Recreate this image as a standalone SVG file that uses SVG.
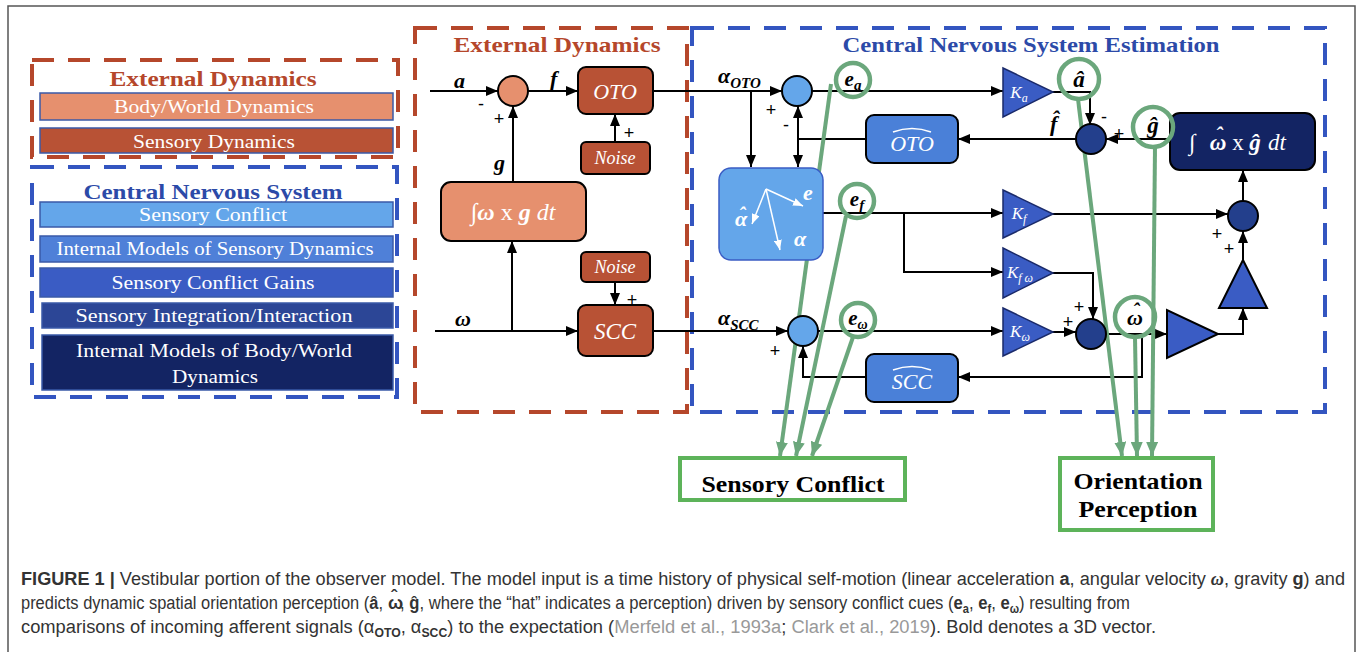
<svg xmlns="http://www.w3.org/2000/svg" width="1360" height="652" viewBox="0 0 1360 652">
<style>
.dr{fill:none;stroke:#b5472b;stroke-width:4;stroke-dasharray:22 14}
.db{fill:none;stroke:#3355c0;stroke-width:4;stroke-dasharray:22 14}
.ttl{font-family:"Liberation Serif",serif;font-weight:bold;font-size:22px;text-anchor:middle}
.lg{font-family:"Liberation Serif",serif;font-size:19px;fill:#fff;text-anchor:middle}
.lgb{stroke:#3a5aa8;stroke-width:1.5}
.m{font-family:"Liberation Serif",serif;font-style:italic;font-weight:bold;fill:#000}
.wi{font-family:"Liberation Serif",serif;font-style:italic;fill:#fff;text-anchor:middle}
.wb{font-family:"Liberation Serif",serif;font-style:italic;font-weight:bold;fill:#fff;text-anchor:middle}
.blk{stroke:#000;stroke-width:2}
.ln{fill:none;stroke:#000;stroke-width:2}
.ar{marker-end:url(#ah)}
.gl{fill:none;stroke:#6ba77c;stroke-width:4;marker-end:url(#gh)}
.gc{fill:none;stroke:#6ba77c;stroke-width:4.5}
.sg{font-family:"Liberation Sans",sans-serif;font-size:18px;fill:#000;text-anchor:middle}
.cap{font-family:"Liberation Sans",sans-serif;font-size:18px;fill:#333}
</style>
<defs>
<marker id="ah" markerUnits="userSpaceOnUse" markerWidth="12" markerHeight="10" refX="12" refY="5" orient="auto-start-reverse"><path d="M0,0 L12,5 L0,10 z" fill="#000"/></marker>
<marker id="gh" markerUnits="userSpaceOnUse" markerWidth="14" markerHeight="12" refX="14" refY="6" orient="auto"><path d="M0,0 L14,6 L0,12 z" fill="#6ba77c"/></marker>
<marker id="wh" markerUnits="userSpaceOnUse" markerWidth="10" markerHeight="8" refX="10" refY="4" orient="auto"><path d="M0,0 L10,4 L0,8 z" fill="#fff"/></marker>
</defs>
<rect width="1360" height="652" fill="#fff"/>
<path d="M8,652 V6 H1355 V652" fill="none" stroke="#555" stroke-width="1.5"/>

<!-- Legend -->
<g id="legend-external">
<rect class="dr" x="32" y="60" width="366" height="97"/>
<text class="ttl" x="213" y="86" fill="#b5472b" textLength="207" lengthAdjust="spacingAndGlyphs">External Dynamics</text>
<rect class="lgb" x="40" y="93" width="353" height="27" fill="#e6906e"/>
<text class="lg" x="214" y="113" textLength="200" lengthAdjust="spacingAndGlyphs">Body/World Dynamics</text>
<rect class="lgb" x="40" y="128" width="353" height="25" fill="#b85235"/>
<text class="lg" x="214" y="148" textLength="162" lengthAdjust="spacingAndGlyphs">Sensory Dynamics</text>
</g>
<g id="legend-cns">
<rect class="db" x="32" y="167" width="365" height="230"/>
<text class="ttl" x="213" y="199" fill="#2c4aa8" textLength="259" lengthAdjust="spacingAndGlyphs">Central Nervous System</text>
<rect class="lgb" x="40" y="202" width="353" height="25" fill="#64a6ea"/>
<text class="lg" x="213" y="221" textLength="148" lengthAdjust="spacingAndGlyphs">Sensory Conflict</text>
<rect class="lgb" x="40" y="236" width="353" height="26" fill="#4f80d8"/>
<text class="lg" x="215" y="255" textLength="317" lengthAdjust="spacingAndGlyphs">Internal Models of Sensory Dynamics</text>
<rect class="lgb" x="40" y="268" width="353" height="29" fill="#3a5cc4"/>
<text class="lg" x="213" y="289" textLength="203" lengthAdjust="spacingAndGlyphs">Sensory Conflict Gains</text>
<rect class="lgb" x="42" y="303" width="351" height="25" fill="#2c4696"/>
<text class="lg" x="214" y="322" textLength="277" lengthAdjust="spacingAndGlyphs">Sensory Integration/Interaction</text>
<rect class="lgb" x="42" y="335" width="351" height="55" fill="#132463"/>
<text class="lg" x="214" y="357" textLength="276" lengthAdjust="spacingAndGlyphs">Internal Models of Body/World</text>
<text class="lg" x="215" y="383" textLength="86" lengthAdjust="spacingAndGlyphs">Dynamics</text>
</g>

<!-- Frames -->
<g id="frame-external">
<rect class="dr" x="415" y="28" width="272" height="384"/>
<text class="ttl" x="557" y="52" fill="#b5472b" textLength="207" lengthAdjust="spacingAndGlyphs">External Dynamics</text>
</g>
<g id="frame-cns">
<rect class="db" x="692" y="28" width="633" height="384"/>
<text class="ttl" x="1031" y="52" fill="#2c4aa8" textLength="377" lengthAdjust="spacingAndGlyphs">Central Nervous System Estimation</text>
</g>

<!-- Connectors -->
<g id="connectors">
<path class="ln ar" d="M430,91 H498"/>
<path class="ln ar" d="M528,91 H578"/>
<path class="ln ar" d="M615,142 V114"/>
<path class="ln ar" d="M513,182 V106"/>
<path class="ln ar" d="M435,331 H578"/>
<path class="ln ar" d="M512,331 V241"/>
<path class="ln ar" d="M615,282 V305"/>
<path class="ln ar" d="M653,91 H782"/>
<path class="ln ar" d="M751,91 V167"/>
<path class="ln" d="M866,139 H798"/>
<path class="ln" d="M798,106 V167" marker-start="url(#ah)" marker-end="url(#ah)"/>
<path class="ln ar" d="M812,91 H1003"/>
<path class="ln ar" d="M1053,92 H1090 V125"/>
<path class="ln ar" d="M1076,139 H958"/>
<path class="ln ar" d="M1170,139 H1106"/>
<path class="ln ar" d="M823,213 H1003"/>
<path class="ln ar" d="M904,213 V272 H1003"/>
<path class="ln ar" d="M1053,214 H1228"/>
<path class="ln ar" d="M1053,273 H1093 V319"/>
<path class="ln ar" d="M653,331 H788"/>
<path class="ln ar" d="M818,331 H1003"/>
<path class="ln ar" d="M1053,332 H1076"/>
<path class="ln ar" d="M1106,334 H1167"/>
<path class="ln ar" d="M1142,334 V377 H958"/>
<path class="ln ar" d="M866,377 H803 V346"/>
<path class="ln ar" d="M1218,334 H1243 V308"/>
<path class="ln ar" d="M1243,260 V231"/>
<path class="ln ar" d="M1243,201 V170"/>
<!-- green lines -->
<path class="gl" d="M831,84 L780,456"/>
<path class="gl" d="M846,216 L796,456"/>
<path class="gl" d="M853,337 L812,456"/>
<path class="gl" d="M1078,99 L1122,456"/>
<path class="gl" d="M1155,147 L1152,456"/>
<path class="gl" d="M1135,337 L1137,456"/>
</g>

<!-- External dynamics nodes -->
<g id="ext-sum">
<circle cx="513" cy="91" r="15" fill="#e6906e" class="blk"/>
<text class="sg" x="481" y="110">-</text>
<text class="sg" x="499" y="125">+</text>
</g>
<g id="label-inputs">
<text class="m" x="454" y="88" font-size="22">a</text>
<text class="m" x="550" y="86" font-size="22">f</text>
<text class="m" x="494" y="170" font-size="22">g</text>
<text class="m" x="455" y="326" font-size="22">ω</text>
</g>
<g id="oto">
<rect x="578" y="67" width="75" height="47" rx="8" fill="#b85235" class="blk"/>
<text class="wi" x="615" y="99" font-size="22">OTO</text>
</g>
<g id="noise-oto">
<rect x="581" y="142" width="69" height="32" rx="5" fill="#b85235" class="blk"/>
<text class="wi" x="615" y="164" font-size="18">Noise</text>
<text class="sg" x="629" y="139">+</text>
</g>
<g id="gravity-integrator">
<rect x="441" y="182" width="145" height="59" rx="10" fill="#e6906e" class="blk"/>
<text x="513" y="220" font-family="Liberation Serif, serif" font-size="24" fill="#fff" text-anchor="middle"><tspan font-style="italic">∫</tspan><tspan font-style="italic" font-weight="bold">ω</tspan> x <tspan font-style="italic" font-weight="bold">g</tspan> <tspan font-style="italic">dt</tspan></text>
</g>
<g id="noise-scc">
<rect x="581" y="252" width="69" height="30" rx="5" fill="#b85235" class="blk"/>
<text class="wi" x="615" y="273" font-size="18">Noise</text>
<text class="sg" x="632" y="306">+</text>
</g>
<g id="scc">
<rect x="578" y="305" width="75" height="51" rx="8" fill="#b85235" class="blk"/>
<text class="wi" x="615" y="339" font-size="23">SCC</text>
</g>

<!-- CNS nodes -->
<g id="cns-sum-oto">
<circle cx="797" cy="91" r="15" fill="#64a6ea" class="blk"/>
<text class="m" x="718" y="83" font-size="22">α<tspan font-size="15" dy="5">OTO</tspan></text>
<text class="sg" x="771" y="116">+</text>
<text class="sg" x="786" y="131">-</text>
</g>
<g id="oto-model">
<rect x="866" y="115" width="92" height="48" rx="8" fill="#4a80d8" class="blk"/>
<text class="wi" x="912" y="151" font-size="22">OTO</text>
<path d="M893,132 Q912,125 931,132" fill="none" stroke="#fff" stroke-width="1.5"/>
</g>
<g id="estimation">
<rect x="719" y="168" width="104" height="92" rx="12" fill="#64a6ea" stroke="#3a5cc4" stroke-width="1.5"/>
<g stroke="#fff" stroke-width="1.5" fill="none" marker-end="url(#wh)">
<path d="M766,189 L752,224"/>
<path d="M766,189 L803,206"/>
<path d="M766,189 L780,250"/>
</g>
<text class="wb" x="741" y="226" font-size="22">α</text>
<text class="wb" x="742" y="222" font-size="20">ˆ</text>
<text class="wb" x="808" y="200" font-size="22">e</text>
<text class="wb" x="800" y="246" font-size="22">α</text>
</g>
<g id="cns-sum-scc">
<circle cx="803" cy="331" r="15" fill="#64a6ea" class="blk"/>
<text class="m" x="718" y="325" font-size="22">α<tspan font-size="15" dy="5">SCC</tspan></text>
<text class="sg" x="775" y="357">+</text>
</g>
<g id="scc-model">
<rect x="866" y="354" width="92" height="48" rx="8" fill="#4a80d8" class="blk"/>
<text class="wi" x="912" y="389" font-size="22">SCC</text>
<path d="M893,370 Q912,363 931,370" fill="none" stroke="#fff" stroke-width="1.5"/>
</g>
<g id="gain-ka">
<path d="M1003,68 L1003,117 L1053,92 z" fill="#3a5cc4" stroke="#1a2a6a" stroke-width="1.5"/>
<text class="wi" x="1019" y="98" font-size="17">K<tspan font-size="12" dy="4">a</tspan></text>
</g>
<g id="gain-kf">
<path d="M1003,190 L1003,238 L1053,214 z" fill="#3a5cc4" stroke="#1a2a6a" stroke-width="1.5"/>
<text class="wi" x="1019" y="219" font-size="17">K<tspan font-size="12" dy="4">f</tspan></text>
</g>
<g id="gain-kfw">
<path d="M1003,248 L1003,298 L1053,273 z" fill="#3a5cc4" stroke="#1a2a6a" stroke-width="1.5"/>
<text class="wi" x="1020" y="278" font-size="17">K<tspan font-size="12" dy="4">f ω</tspan></text>
</g>
<g id="gain-kw">
<path d="M1003,308 L1003,356 L1053,332 z" fill="#3a5cc4" stroke="#1a2a6a" stroke-width="1.5"/>
<text class="wi" x="1020" y="337" font-size="17">K<tspan font-size="12" dy="4">ω</tspan></text>
</g>
<g id="sum-f">
<circle cx="1091" cy="139" r="15" fill="#233f8c" class="blk"/>
<text class="sg" x="1104" y="123">-</text>
<text class="sg" x="1119" y="140">+</text>
<text x="1050" y="131" font-family="Liberation Serif, serif" font-style="italic" font-weight="bold" font-size="22">f̂</text>
</g>
<g id="gravity-model">
<rect x="1170" y="113" width="145" height="57" rx="10" fill="#132463" class="blk"/>
<g font-family="Liberation Serif, serif" font-size="23" fill="#fff">
<text x="1189" y="150" font-style="italic">∫</text>
<text x="1218" y="150" font-style="italic" font-weight="bold" text-anchor="middle">ω</text>
<text x="1219" y="142" font-style="italic" font-weight="bold" text-anchor="middle" font-size="21">ˆ</text>
<text x="1238" y="150" text-anchor="middle">x</text>
<text x="1255" y="150" font-style="italic" font-weight="bold" text-anchor="middle">ĝ</text>
<text x="1268" y="150" font-style="italic">dt</text>
</g>
</g>
<g id="sum-g">
<circle cx="1243" cy="216" r="15" fill="#233f8c" class="blk"/>
<text class="sg" x="1217" y="240">+</text>
<text class="sg" x="1229" y="255">+</text>
</g>
<g id="gain-up">
<path d="M1243,260 L1219,308 L1267,308 z" fill="#3a5cc4" class="blk"/>
</g>
<g id="sum-w">
<circle cx="1091" cy="334" r="15" fill="#233f8c" class="blk"/>
<text class="sg" x="1068" y="328">+</text>
<text class="sg" x="1079" y="313">+</text>
</g>
<g id="gain-right">
<path d="M1167,310 L1167,358 L1218,334 z" fill="#3a5cc4" class="blk"/>
</g>

<!-- Green circles -->
<g id="conflict-ea">
<circle class="gc" cx="853" cy="80" r="17"/>
<text class="m" x="853" y="86" font-size="21" text-anchor="middle">e<tspan font-size="15" dy="4">a</tspan></text>
</g>
<g id="conflict-ef">
<circle class="gc" cx="857" cy="201" r="17"/>
<text class="m" x="857" y="206" font-size="21" text-anchor="middle">e<tspan font-size="15" dy="4">f</tspan></text>
</g>
<g id="conflict-ew">
<circle class="gc" cx="858" cy="320" r="17"/>
<text class="m" x="858" y="325" font-size="21" text-anchor="middle">e<tspan font-size="14" dy="4">ω</tspan></text>
</g>
<g id="percept-a">
<circle class="gc" cx="1079" cy="79" r="20"/>
<text class="m" x="1079" y="87" font-size="23" text-anchor="middle">â</text>
</g>
<g id="percept-g">
<circle class="gc" cx="1153" cy="127" r="20"/>
<text class="m" x="1153" y="133" font-size="23" text-anchor="middle">ĝ</text>
</g>
<g id="percept-w">
<circle class="gc" cx="1135" cy="317" r="20"/>
<text class="m" x="1135" y="325" font-size="22" text-anchor="middle">ω</text>
<text class="m" x="1136" y="318" font-size="20" text-anchor="middle">ˆ</text>
</g>

<!-- Output boxes -->
<g id="sensory-conflict">
<rect x="680" y="458" width="225" height="42" fill="#fff" stroke="#5db35a" stroke-width="4"/>
<text x="793" y="492" font-family="Liberation Serif, serif" font-weight="bold" font-size="23" text-anchor="middle" textLength="183" lengthAdjust="spacingAndGlyphs">Sensory Conflict</text>
</g>
<g id="orientation-perception">
<rect x="1060" y="458" width="153" height="72" fill="#fff" stroke="#5db35a" stroke-width="4"/>
<text x="1138" y="489" font-family="Liberation Serif, serif" font-weight="bold" font-size="23" text-anchor="middle" textLength="129" lengthAdjust="spacingAndGlyphs">Orientation</text>
<text x="1138" y="517" font-family="Liberation Serif, serif" font-weight="bold" font-size="23" text-anchor="middle" textLength="119" lengthAdjust="spacingAndGlyphs">Perception</text>
</g>

<!-- Caption -->
<g id="caption">
<text class="cap" x="21" y="585" textLength="1324" lengthAdjust="spacingAndGlyphs"><tspan font-weight="bold">FIGURE 1 |</tspan> Vestibular portion of the observer model. The model input is a time history of physical self-motion (linear acceleration <tspan font-weight="bold">a</tspan>, angular velocity <tspan font-weight="bold" font-style="italic" font-family="Liberation Serif, serif">ω</tspan>, gravity <tspan font-weight="bold">g</tspan>) and</text>
<text class="cap" x="21" y="609" textLength="362" lengthAdjust="spacingAndGlyphs">predicts dynamic spatial orientation perception (<tspan font-weight="bold">â</tspan>, </text>
<text class="cap" x="388" y="609" font-weight="bold">ω</text>
<text class="cap" x="394" y="603" font-weight="bold" font-size="14" text-anchor="middle">ˆ</text>
<text class="cap" x="400" y="609" textLength="730" lengthAdjust="spacingAndGlyphs">, <tspan font-weight="bold">ĝ</tspan>, where the “hat” indicates a perception) driven by sensory conflict cues (<tspan font-weight="bold">e</tspan><tspan font-weight="bold" font-size="12" dy="4">a</tspan><tspan dy="-4">, </tspan><tspan font-weight="bold">e</tspan><tspan font-weight="bold" font-size="12" dy="4">f</tspan><tspan dy="-4">, </tspan><tspan font-weight="bold">e</tspan><tspan font-weight="bold" font-size="12" dy="4">ω</tspan><tspan dy="-4">) resulting from</tspan></text>
<text class="cap" x="21" y="633" textLength="1135" lengthAdjust="spacingAndGlyphs">comparisons of incoming afferent signals (α<tspan font-size="12" font-weight="bold" dy="4">OTO</tspan><tspan dy="-4">, α</tspan><tspan font-size="12" font-weight="bold" dy="4">SCC</tspan><tspan dy="-4">) to the expectation (</tspan><tspan fill="#999">Merfeld et al., 1993a</tspan>; <tspan fill="#999">Clark et al., 2019</tspan>). Bold denotes a 3D vector.</text>
</g>
</svg>
